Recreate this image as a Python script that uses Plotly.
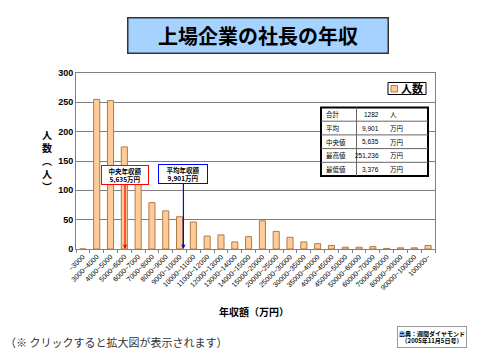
import plotly.graph_objects as go

categories = ["~3000", "3000~4000", "4000~5000", "5000~6000", "6000~7000", "7000~8000",
              "8000~9000", "9000~10000", "10000~11000", "11000~12000", "12000~13000",
              "13000~14000", "14000~15000", "15000~20000", "20000~25000", "25000~30000",
              "30000~35000", "35000~40000", "40000~45000", "45000~50000", "50000~60000",
              "60000~70000", "70000~80000", "80000~90000", "90000~100000", "100000~"]
counts = [0, 255, 253, 174, 130, 79, 65, 55, 46, 22, 24, 12, 21, 48, 30, 20, 12, 9, 6, 3, 3, 4, 1, 2, 2, 6]

y_ticks = [0, 50, 100, 150, 200, 250, 300]

stat_labels = ["合計", "平均", "中央値", "最高値", "最低値"]
stat_values = ["1282", "9,901", "5,635", "251,236", "3,376"]
stat_units = ["人", "万円", "万円", "万円", "万円"]

median_pos = 3.05
mean_pos = 7.28

W, H = 485, 356
L, R, T, B = 76, 50, 73, 107
PW, PH = W - L - R, H - T - B

def px(x):
    return (x - L) / PW

def py(y):
    return (H - B - y) / PH

FONT = "Noto Sans CJK JP"
BAR_FILL = "#FFCC99"
BAR_LINE = "#B07A45"

fig = go.Figure()
fig.add_trace(go.Bar(
    x=categories, y=counts, name="人数", width=0.44, showlegend=False,
    marker=dict(color=BAR_FILL, line=dict(color=BAR_LINE, width=1)),
))

ann = []
# title box
ann.append(dict(xref="paper", yref="paper", x=px(257.5), y=py(35), text="<b>上場企業の社長の年収</b>",
                showarrow=False, font=dict(family=FONT, size=20, color="#000"),
                bgcolor="#A6D2FF", bordercolor="#333333", borderwidth=1.5,
                width=257, height=32, xanchor="center", yanchor="middle"))
# y axis title
ann.append(dict(xref="paper", yref="paper", x=px(47), y=py(160),
                text="<b>人<br>数<br>︵<br>人<br>︶</b>", showarrow=False,
                font=dict(family=FONT, size=10, color="#000"), xanchor="center", yanchor="middle"))
# x axis title
ann.append(dict(xref="paper", yref="paper", x=px(254), y=py(311),
                text="<b>年収額（万円）</b>", showarrow=False,
                font=dict(family=FONT, size=10, color="#000"), xanchor="center", yanchor="middle"))
# footnote
ann.append(dict(xref="paper", yref="paper", x=px(3), y=py(342),
                text="（※ クリックすると拡大図が表示されます）", showarrow=False,
                font=dict(family=FONT, size=11, color="#333"), xanchor="left", yanchor="middle"))
# source box
ann.append(dict(xref="paper", yref="paper", x=px(432), y=py(336.5),
                text="<b>出典：週間ダイヤモンド<br>（2005年11月5日号）</b>", showarrow=False,
                font=dict(family=FONT, size=6, color="#000"), bgcolor="white",
                bordercolor="#999999", borderwidth=1, width=66, height=18,
                xanchor="center", yanchor="middle"))
# legend text (manual)
ann.append(dict(xref="paper", yref="paper", x=px(400), y=py(88.5),
                text="<b>人数</b>", showarrow=False, font=dict(family=FONT, size=11, color="#000"),
                xanchor="left", yanchor="middle", borderpad=0))
# median & mean annotations
ann.append(dict(x=median_pos, y=0, xref="x", yref="y", ax=0, ay=-74,
                text="<b>中央年収額<br>5,635万円</b>", showarrow=True, arrowcolor="red",
                arrowhead=2, arrowsize=0.7, arrowwidth=1.2, standoff=0,
                font=dict(family=FONT, size=6.5, color="#000"), bgcolor="white",
                bordercolor="red", borderwidth=1, width=44, height=16))
ann.append(dict(x=mean_pos, y=0, xref="x", yref="y", ax=0, ay=-75,
                text="<b>平均年収額<br>9,901万円</b>", showarrow=True, arrowcolor="blue",
                arrowhead=2, arrowsize=0.7, arrowwidth=1.2, standoff=0,
                font=dict(family=FONT, size=6.5, color="#000"), bgcolor="white",
                bordercolor="blue", borderwidth=1, width=46, height=16))

shapes = []
# legend box and swatch
shapes.append(dict(type="rect", xref="paper", yref="paper", x0=px(388), x1=px(426), y0=py(82.5), y1=py(94.5),
                   fillcolor="white", line=dict(color="#000", width=1), layer="above"))
shapes.append(dict(type="rect", xref="paper", yref="paper", x0=px(391), x1=px(397.5), y0=py(85.5), y1=py(92),
                   fillcolor=BAR_FILL, line=dict(color=BAR_LINE, width=1), layer="above"))

# stats table
tx0, tx1, ty0, ty1 = 321, 428, 107.5, 176
xdiv = 356.5
rh = (ty1 - ty0) / len(stat_labels)
shapes.append(dict(type="rect", xref="paper", yref="paper", x0=px(tx0), x1=px(tx1), y0=py(ty0), y1=py(ty1),
                   fillcolor="white", line=dict(color="#000", width=2), layer="above"))
shapes.append(dict(type="line", xref="paper", yref="paper", x0=px(xdiv), x1=px(xdiv), y0=py(ty0), y1=py(ty1),
                   line=dict(color="#666", width=1), layer="above"))
for i in range(len(stat_labels)):
    yc = ty0 + rh * (i + 0.5)
    if i > 0:
        yl = ty0 + rh * i
        shapes.append(dict(type="line", xref="paper", yref="paper", x0=px(tx0), x1=px(tx1), y0=py(yl), y1=py(yl),
                           line=dict(color="#666", width=1), layer="above"))
    ann.append(dict(xref="paper", yref="paper", x=px(325), y=py(yc), text=stat_labels[i], showarrow=False,
                    font=dict(family=FONT, size=6.5, color="#000"), xanchor="left", yanchor="middle", borderpad=0))
    ann.append(dict(xref="paper", yref="paper", x=px(380), y=py(yc), text=stat_values[i], showarrow=False,
                    font=dict(family="Liberation Sans Narrow, Liberation Sans", size=6.5, color="#000"),
                    xanchor="right", yanchor="middle", borderpad=0))
    ann.append(dict(xref="paper", yref="paper", x=px(389), y=py(yc), text=stat_units[i], showarrow=False,
                    font=dict(family=FONT, size=6.5, color="#000"), xanchor="left", yanchor="middle", borderpad=0))

fig.update_layout(
    width=W, height=H, margin=dict(l=L, r=R, t=T, b=B, autoexpand=False),
    paper_bgcolor="white", plot_bgcolor="white",
    showlegend=False,
    bargap=0.5,
    annotations=ann, shapes=shapes,
)
fig.update_xaxes(type="category", tickangle=-45, showline=True, linecolor="#808080", linewidth=1,
                 mirror=True, ticks="outside", ticklen=3, tickcolor="#808080", tickson="boundaries",
                 automargin=False,
                 tickfont=dict(family="Liberation Sans", size=7, color="#000"), showgrid=False)
fig.update_yaxes(range=[0, 300], tickvals=y_ticks, showline=True, linecolor="#808080", linewidth=1,
                 mirror=True, showgrid=True, gridcolor="#808080", gridwidth=1, zeroline=False,
                 automargin=False,
                 ticks="", tickfont=dict(family="Liberation Sans", size=9, color="#000", weight="bold"))

fig.write_html("out.html", config={"displayModeBar": False},
               post_script="document.body.style.margin='0';document.body.style.overflow='hidden';")
